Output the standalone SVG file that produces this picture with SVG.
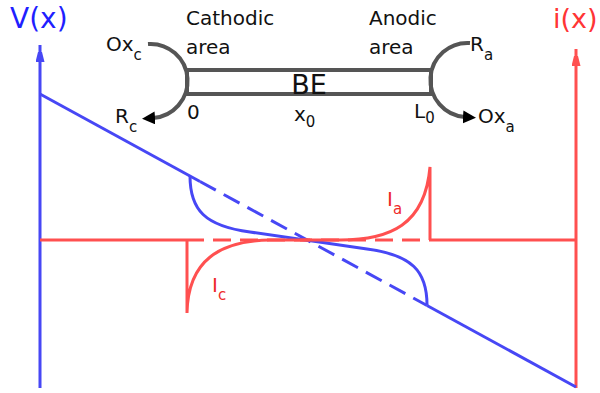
<svg xmlns="http://www.w3.org/2000/svg" width="600" height="393" viewBox="0 0 600 393">
<style>
text{font-family:"DejaVu Sans",Verdana,sans-serif;}
.lbl{font-size:20px;fill:#111;}
.sub{font-size:15px;}
.blue{stroke:#4747f5;stroke-width:3;fill:none;}
.red{stroke:#ff5050;stroke-width:3;fill:none;}
.gray{stroke:#555;stroke-width:4;fill:none;}
.dash{stroke-dasharray:18 9;}
</style>
<defs>
<marker id="ah" markerUnits="userSpaceOnUse" markerWidth="14" markerHeight="14" refX="2" refY="6.5" orient="auto">
<path d="M0,0 L13,6.5 L0,13 z" fill="#000"/>
</marker>
<marker id="axb" markerUnits="userSpaceOnUse" markerWidth="10" markerHeight="20" refX="17" refY="4.5" orient="auto">
<path d="M0,0 L18,4.5 L0,9 z" fill="#4747f5"/>
</marker>
<marker id="axr" markerUnits="userSpaceOnUse" markerWidth="10" markerHeight="20" refX="17" refY="4.5" orient="auto">
<path d="M0,0 L18,4.5 L0,9 z" fill="#ff5050"/>
</marker>
</defs>
<g id="axes">
<line class="blue" x1="40" y1="388" x2="40" y2="45" marker-end="url(#axb)"/>
<line class="red" x1="576" y1="388" x2="576" y2="49" marker-end="url(#axr)"/>
<text x="10" y="28" font-size="28" fill="#1f1fff">V(x)</text>
<text x="553" y="28" font-size="27" fill="#ff3535">i(x)</text>
</g>
<g id="connectors">
<path class="blue" d="M40,94 L200,181.5"/>
<path class="blue dash" d="M200,181.5 L427,305.5"/>
<path class="blue" d="M427,305.5 L576,387"/>
<path class="red" d="M40,240 L186,240"/>
<path class="red dash" d="M186,240 L430,240"/>
<path class="red" d="M430,240 L576,240"/>
</g>
<g id="potential">
<path class="blue" d="M190,176 C190,210 205,226 250,232 L367,249 C412,255 427,271 427,305"/>
</g>
<g id="current-a">
<path class="red" d="M300,240 L340,240 C390,240 425,225 430,167 L430,240"/>
<text x="387" y="206" font-size="20" fill="#ee2a2a">I<tspan class="sub" dy="8">a</tspan></text>
</g>
<g id="current-c">
<path class="red" d="M310,240 L270,240 C220,241 188,260 187,313 L187,240"/>
<text x="212" y="292" font-size="20" fill="#ee2a2a">I<tspan class="sub" dy="8">c</tspan></text>
</g>
<g id="BE">
<rect class="gray" x="187" y="70" width="244" height="24"/>
<text x="309" y="94" font-size="27" text-anchor="middle" fill="#111">BE</text>
<text class="lbl" x="294" y="121">x<tspan class="sub" dy="6">0</tspan></text>
<text class="lbl" x="187" y="119" font-size="18">0</text>
<text class="lbl" x="414" y="118">L<tspan class="sub" dy="5">0</tspan></text>
</g>
<g id="cathodic">
<path class="gray" d="M148,44 A37,37 0 0 1 153,118" marker-end="url(#ah)"/>
<text class="lbl" x="186" y="25">Cathodic</text>
<text class="lbl" x="186" y="54">area</text>
<text class="lbl" x="106" y="51">Ox<tspan class="sub" dy="9">c</tspan></text>
<text class="lbl" x="115" y="123">R<tspan class="sub" dy="9">c</tspan></text>
</g>
<g id="anodic">
<path class="gray" d="M470,43 A37,37 0 0 0 465,117" marker-end="url(#ah)"/>
<text class="lbl" x="369" y="25">Anodic</text>
<text class="lbl" x="369" y="54">area</text>
<text class="lbl" x="470" y="51">R<tspan class="sub" dy="9">a</tspan></text>
<text class="lbl" x="478" y="123">Ox<tspan class="sub" dy="9">a</tspan></text>
</g>
</svg>
